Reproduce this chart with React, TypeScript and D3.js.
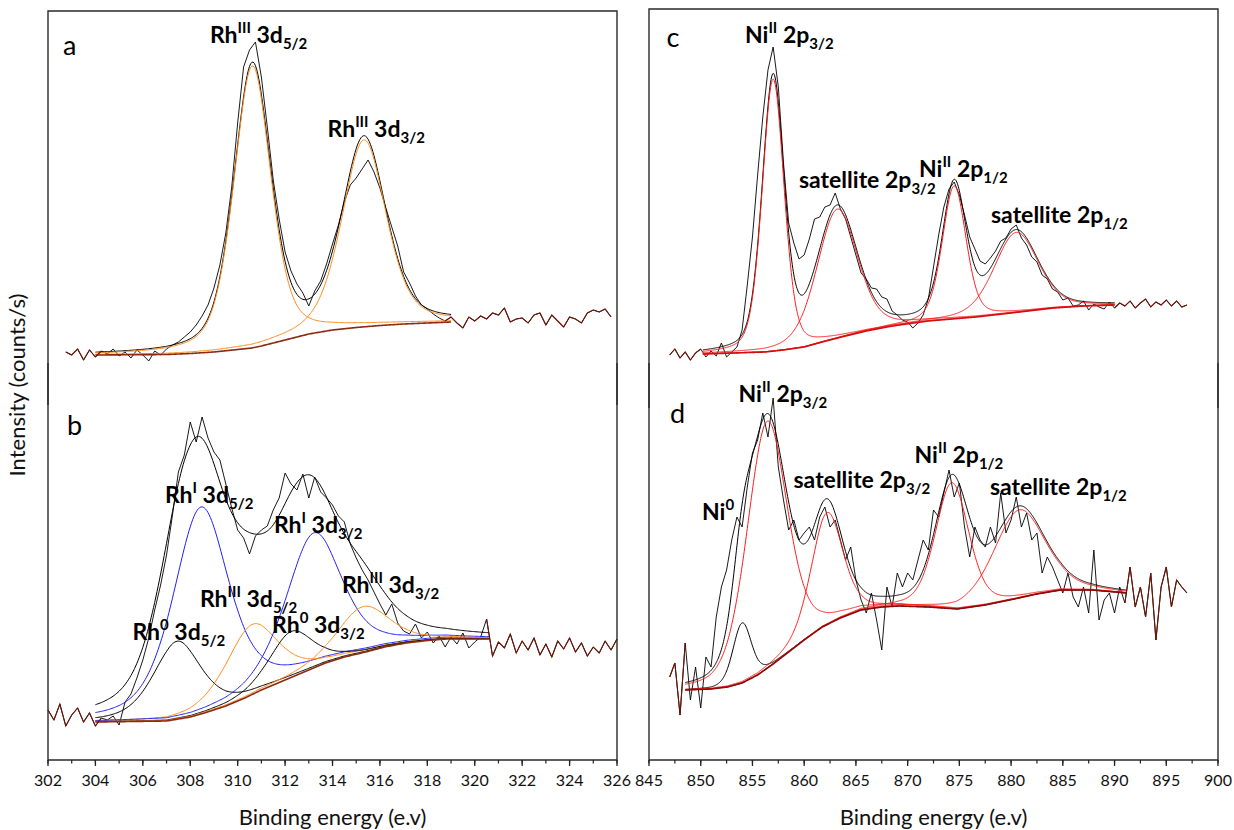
import React from "react";
import * as d3 from "d3";

const FONT = "Lato, 'Open Sans', sans-serif";

// ---------------- axis ticks ----------------
const rhTickValues = [302, 304, 306, 308, 310, 312, 314, 316, 318, 320, 322, 324, 326];
const niTickValues = [845, 850, 855, 860, 865, 870, 875, 880, 885, 890, 895, 900];
const xTitle = "Binding energy (e.v)";
const yTitle = "Intensity (counts/s)";

// ---------------- panel a : Rh 3d (fresh) ----------------
const aRawStart = 302.75;
const aRawStep = 0.25;
const aRaw = [33, 30, 36, 25, 35, 28, 34, 31, 36, 29, 33, 27, 35, 30, 24, 34, 30, 36, 40, 43, 48, 53, 60, 69, 80, 97, 120, 152, 198, 262, 318, 335, 343, 308, 258, 205, 166, 133, 114, 101, 92, 79, 94, 104, 121, 141, 160, 183, 200, 207, 216, 225, 213, 197, 177, 158, 139, 113, 102, 89, 80, 76, 71, 67, 64, 68, 62, 57, 68, 64, 69, 66, 72, 70, 77, 63, 66, 67, 62, 70, 72, 60, 70, 64, 58, 68, 66, 62, 72, 75, 73, 76, 68];
const aBgE = [304, 307, 308, 309, 310, 310.6, 311, 312, 313, 314, 315, 315.5, 316, 317, 318, 319];
const aBgI = [30, 30.5, 31.5, 33, 35.5, 37, 39, 45, 51, 55, 57.5, 58.5, 59.5, 61, 62, 63];
const aPeakSpecies = ["RhIII", "RhIII"];
const aPeakCenter = [310.62, 315.33];
const aPeakHeight = [282, 187];
const aPeakFwhm = [1.85, 2.2];
const aPeakMix = [0.4, 0.4];
const aLabels = [
  { base: "Rh", sup: "III", main: " 3d", sub: "5/2" },
  { base: "Rh", sup: "III", main: " 3d", sub: "3/2" },
];
const aLabelE = [308.83, 313.79];
const aLabelI = [342, 248];

// ---------------- panel b : Rh 3d (used) ----------------
const bRawStart = 302.0;
const bRawStep = 0.25;
const bRaw = [50, 40, 56, 34, 45, 52, 38, 47, 34, 42, 40, 44, 35, 58, 66, 82, 100, 122, 150, 175, 205, 245, 288, 305, 338, 318, 343, 322, 308, 300, 276, 252, 230, 222, 206, 224, 230, 234, 250, 262, 287, 276, 270, 286, 262, 283, 268, 262, 255, 244, 238, 216, 202, 190, 180, 168, 156, 145, 156, 137, 129, 126, 136, 122, 128, 117, 124, 113, 123, 116, 127, 112, 118, 123, 141, 104, 118, 112, 126, 107, 119, 110, 122, 105, 116, 103, 119, 111, 122, 108, 117, 104, 113, 107, 119, 110, 121];
const bBgE = [304, 307, 308, 308.6, 309.5, 310.3, 311, 312, 313, 313.7, 314.5, 315.4, 316.2, 317.1, 318, 318.8, 320.6];
const bBgI = [38, 39, 43, 47, 54, 62, 70, 80, 90, 97, 103, 108, 113, 117, 119.5, 121, 121];
const bPeakSpecies = ["Rh0", "RhI", "RhIII", "Rh0", "RhI", "RhIII"];
const bPeakCenter = [307.45, 308.45, 310.6, 312.25, 313.2, 315.3];
const bPeakHeight = [78, 207, 70, 46, 135, 46];
const bPeakFwhm = [2.4, 2.8, 2.6, 2.2, 2.8, 2.6];
const bPeakMix = [0.5, 0.5, 0.5, 0.5, 0.5, 0.5];
const bLabels = [
  { base: "Rh", sup: "I", main: " 3d", sub: "5/2" },
  { base: "Rh", sup: "I", main: " 3d", sub: "3/2" },
  { base: "Rh", sup: "III", main: " 3d", sub: "5/2" },
  { base: "Rh", sup: "0", main: " 3d", sub: "5/2" },
  { base: "Rh", sup: "0", main: " 3d", sub: "3/2" },
  { base: "Rh", sup: "III", main: " 3d", sub: "3/2" },
];
const bLabelE = [306.93, 311.53, 308.41, 305.56, 311.45, 314.4];
const bLabelI = [257, 227, 153, 120, 127, 167];

// ---------------- panel c : Ni 2p (fresh) ----------------
const cRawStart = 847;
const cRawStep = 0.5;
const cRaw = [30, 36, 27, 33, 25, 32, 36, 28, 34, 29, 42, 28, 33, 38, 55, 100, 148, 210, 268, 315, 338, 298, 222, 162, 142, 126, 130, 146, 166, 168, 178, 180, 192, 176, 166, 148, 130, 112, 106, 97, 96, 88, 86, 74, 70, 65, 63, 57, 62, 70, 86, 118, 150, 178, 196, 203, 190, 170, 148, 136, 124, 121, 127, 134, 144, 147, 156, 160, 147, 140, 128, 123, 110, 106, 96, 93, 85, 87, 79, 80, 84, 75, 81, 78, 76, 83, 77, 82, 79, 84, 77, 82, 86, 78, 83, 80, 85, 79, 84, 78, 80];
const cBgE = [850.2, 856.2, 858, 860, 861.75, 864, 866, 868, 869.2, 872, 876.6, 880, 884.1, 887, 890];
const cBgI = [31, 33, 35, 38, 43, 49, 54, 58, 60, 64, 68, 72, 77, 79, 80];
const cPeakSpecies = ["Ni", "Ni", "Ni", "Ni"];
const cPeakCenter = [857.0, 863.2, 874.5, 880.5];
const cPeakHeight = [272, 129, 133, 80];
const cPeakFwhm = [2.5, 4.6, 2.7, 5.0];
const cPeakMix = [0.3, 0.3, 0.3, 0.3];
const cLabels = [
  { base: "Ni", sup: "II", main: " 2p", sub: "3/2" },
  { base: "satellite 2p", sup: "", main: "", sub: "3/2" },
  { base: "Ni", sup: "II", main: " 2p", sub: "1/2" },
  { base: "satellite 2p", sup: "", main: "", sub: "1/2" },
];
const cLabelE = [854.28, 859.5, 871.1, 878.06];
const cLabelI = [342, 197, 208, 162];

// ---------------- panel d : Ni 2p (used) ----------------
const dRawStart = 847;
const dRawStep = 0.5;
const dRaw = [83, 97, 45, 117, 60, 93, 52, 103, 93, 143, 173, 190, 220, 243, 233, 273, 307, 320, 347, 323, 362, 293, 260, 230, 240, 220, 227, 233, 220, 243, 253, 233, 240, 220, 200, 213, 180, 160, 147, 167, 140, 110, 173, 153, 187, 173, 187, 180, 200, 220, 210, 250, 243, 267, 290, 263, 277, 233, 203, 233, 220, 213, 233, 217, 267, 227, 240, 263, 233, 247, 220, 227, 187, 203, 193, 180, 167, 187, 163, 153, 173, 147, 210, 140, 160, 167, 147, 173, 157, 193, 153, 173, 143, 187, 120, 173, 193, 153, 180, 173, 167];
const dBgE = [848.5, 851, 852.6, 854, 855.5, 857, 858.5, 860, 861.75, 863.5, 865.5, 867.5, 869.2, 872, 874.8, 877.5, 880.3, 882.5, 884.8, 887.8, 891.2];
const dBgI = [70, 71, 73, 77, 85, 96, 108, 120, 133, 142, 150, 153, 154, 153, 151, 155, 161, 166, 170, 170, 167];
const dPeakSpecies = ["Ni0", "Ni", "Ni", "Ni", "Ni"];
const dPeakCenter = [854.0, 856.4, 862.2, 874.3, 880.8];
const dPeakHeight = [60, 247, 112, 126, 88];
const dPeakFwhm = [2.1, 4.6, 3.6, 3.8, 5.8];
const dPeakMix = [0.3, 0.3, 0.3, 0.3, 0.3];
const dLabels = [
  { base: "Ni", sup: "II", main: " 2p", sub: "3/2" },
  { base: "Ni", sup: "0", main: "", sub: "" },
  { base: "satellite 2p", sup: "", main: "", sub: "3/2" },
  { base: "Ni", sup: "II", main: " 2p", sub: "1/2" },
  { base: "satellite 2p", sup: "", main: "", sub: "1/2" },
];
const dLabelE = [853.65, 850.12, 858.97, 870.67, 877.96];
const dLabelI = [358, 240, 272, 297, 265];

const letterNames = ["a", "b", "c", "d"];
const letterE = [302.63, 302.8, 846.69, 847.03];
const letterI = [330, 325, 338, 337];

// ---------------- styles ----------------
const speciesColor: Record<string, string> = {
  RhIII: "#ff8c1a",
  RhI: "#1f1fff",
  Rh0: "#000000",
  Ni: "#ff1a1a",
  Ni0: "#000000",
};
const bgColor: Record<string, string> = { a: "#8a2b12", b: "#8a2b12", c: "#d01010", d: "#8b0a0a" };

// ---------------- helpers ----------------
const pv = (E: number, c: number, h: number, w: number, eta: number) => {
  const u2 = Math.pow((2 * (E - c)) / w, 2);
  return h * (eta / (1 + u2) + (1 - eta) * Math.pow(2, -u2));
};
const interp = (xs: number[], ys: number[], x: number) => {
  if (x <= xs[0]) return ys[0];
  if (x >= xs[xs.length - 1]) return ys[ys.length - 1];
  const i = d3.bisectRight(xs, x) - 1;
  const t = (x - xs[i]) / (xs[i + 1] - xs[i]);
  return ys[i] + t * (ys[i + 1] - ys[i]);
};

type Lab = { base: string; sup: string; main: string; sub: string };

function Label({ x, y, l }: { x: number; y: number; l: Lab }) {
  const big = 23;
  const small = 15;
  let cur = 0;
  const parts: any[] = [];
  parts.push(<tspan key="b">{l.base}</tspan>);
  if (l.sup) {
    parts.push(<tspan key="p" fontSize={small} dy={-10}>{l.sup}</tspan>);
    cur = -10;
  }
  if (l.main) {
    parts.push(<tspan key="m" fontSize={big} dy={-cur}>{l.main}</tspan>);
    cur = 0;
  }
  if (l.sub) {
    parts.push(<tspan key="s" fontSize={small} dy={6 - cur}>{l.sub}</tspan>);
  }
  return (
    <text x={x} y={y} fontFamily={FONT} fontWeight={700} fontSize={big} fill="#000" style={{ whiteSpace: "pre" }}>
      {parts}
    </text>
  );
}

// ---------------- scales ----------------
const xRh = d3.scaleLinear().domain([302, 326]).range([48, 617]);
const xNi = d3.scaleLinear().domain([845, 900]).range([649, 1218]);
const yA = d3.scaleLinear().domain([0, 374]).range([385, 11]);
const yB = d3.scaleLinear().domain([0, 375]).range([760, 385]);
const yC = d3.scaleLinear().domain([0, 376]).range([385, 9]);
const yD = d3.scaleLinear().domain([0, 375]).range([760, 385]);

const panels = [
  { key: "a", x: xRh, y: yA, rs: aRawStart, st: aRawStep, raw: aRaw, bgE: aBgE, bgI: aBgI, sp: aPeakSpecies, pc: aPeakCenter, ph: aPeakHeight, pw: aPeakFwhm, pm: aPeakMix, labs: aLabels, lE: aLabelE, lI: aLabelI },
  { key: "b", x: xRh, y: yB, rs: bRawStart, st: bRawStep, raw: bRaw, bgE: bBgE, bgI: bBgI, sp: bPeakSpecies, pc: bPeakCenter, ph: bPeakHeight, pw: bPeakFwhm, pm: bPeakMix, labs: bLabels, lE: bLabelE, lI: bLabelI },
  { key: "c", x: xNi, y: yC, rs: cRawStart, st: cRawStep, raw: cRaw, bgE: cBgE, bgI: cBgI, sp: cPeakSpecies, pc: cPeakCenter, ph: cPeakHeight, pw: cPeakFwhm, pm: cPeakMix, labs: cLabels, lE: cLabelE, lI: cLabelI },
  { key: "d", x: xNi, y: yD, rs: dRawStart, st: dRawStep, raw: dRaw, bgE: dBgE, bgI: dBgI, sp: dPeakSpecies, pc: dPeakCenter, ph: dPeakHeight, pw: dPeakFwhm, pm: dPeakMix, labs: dLabels, lE: dLabelE, lI: dLabelI },
];

function PanelPlot({ p, idx }: { p: (typeof panels)[number]; idx: number }) {
  const line = d3
    .line<[number, number]>()
    .x((d) => p.x(d[0]))
    .y((d) => p.y(d[1]));
  const rawPts: [number, number][] = p.raw.map((v, i) => [p.rs + i * p.st, v]);
  const e0 = p.bgE[0];
  const e1 = p.bgE[p.bgE.length - 1];
  const grid = d3.range(e0, e1 + 1e-9, 0.05);
  const bgAt = (E: number) => interp(p.bgE, p.bgI, E);
  const comps = p.pc.map((c, k) =>
    grid.map((E) => [E, bgAt(E) + pv(E, c, p.ph[k], p.pw[k], p.pm[k])] as [number, number])
  );
  const env = grid.map(
    (E) => [E, bgAt(E) + d3.sum(p.pc, (c, k) => pv(E, c, p.ph[k], p.pw[k], p.pm[k]))] as [number, number]
  );
  const bgLine = grid.map((E) => [E, bgAt(E)] as [number, number]);
  const leftRaw = rawPts.filter((d) => d[0] <= e0 + 0.26);
  const rightRaw = rawPts.filter((d) => d[0] >= e1 - 0.26);
  return (
    <g>
      <path d={line(rawPts) || ""} fill="none" stroke="#000" strokeWidth={0.9} />
      <path d={line(env) || ""} fill="none" stroke="#000" strokeWidth={1} />
      {comps.map((cp, k) => (
        <path key={k} d={line(cp) || ""} fill="none" stroke={speciesColor[p.sp[k]]} strokeWidth={1} />
      ))}
      <path d={line(bgLine) || ""} fill="none" stroke={bgColor[p.key]} strokeWidth={1.6} />
      <path d={line(leftRaw) || ""} fill="none" stroke="#6e1508" strokeWidth={1.1} />
      <path d={line(rightRaw) || ""} fill="none" stroke="#6e1508" strokeWidth={1.1} />
      {p.labs.map((l, k) => (
        <Label key={k} x={p.x(p.lE[k])} y={p.y(p.lI[k])} l={l} />
      ))}
      <text x={p.x(letterE[idx])} y={p.y(letterI[idx])} fontFamily={FONT} fontSize={27} fill="#000">
        {letterNames[idx]}
      </text>
    </g>
  );
}

function XAxis({ x, ticks, minorStep }: { x: d3.ScaleLinear<number, number>; ticks: number[]; minorStep: number }) {
  const [d0, d1] = x.domain();
  const minors = d3.range(d0, d1 + 1e-9, minorStep);
  const y0 = 760;
  return (
    <g>
      {minors.map((m, i) => (
        <line key={"m" + i} x1={x(m)} x2={x(m)} y1={y0} y2={y0 + 3.5} stroke="#222" strokeWidth={1.2} />
      ))}
      {ticks.map((t) => (
        <g key={t}>
          <line x1={x(t)} x2={x(t)} y1={y0} y2={y0 + 6} stroke="#222" strokeWidth={1.3} />
          <text x={x(t)} y={786} textAnchor="middle" fontFamily={FONT} fontSize={16} fill="#111">
            {t}
          </text>
        </g>
      ))}
      <text x={(x.range()[0] + x.range()[1]) / 2} y={825} textAnchor="middle" fontFamily={FONT} fontSize={22} fill="#111">
        {xTitle}
      </text>
    </g>
  );
}

function Frame({ x0, x1, top, mid1, mid2 }: { x0: number; x1: number; top: number; mid1: number; mid2: number }) {
  const s = "#2a2a2a";
  return (
    <g fill="none" stroke={s} strokeWidth={1.4}>
      <path d={`M${x0},${mid2} L${x0},${top} L${x1},${top} L${x1},${mid2}`} />
      <path d={`M${x0},${mid1} L${x0},760 L${x1},760 L${x1},${mid1}`} />
    </g>
  );
}

export default function App() {
  return (
    <svg width={1234} height={830} style={{ position: "absolute", left: 0, top: 0, background: "#fff" }}>
      <rect width={1234} height={830} fill="#fff" />
      <Frame x0={48} x1={617} top={11} mid1={363} mid2={405} />
      <Frame x0={649} x1={1218} top={9} mid1={363} mid2={408} />
      {panels.map((p, i) => (
        <PanelPlot key={p.key} p={p} idx={i} />
      ))}
      <XAxis x={xRh} ticks={rhTickValues} minorStep={1} />
      <XAxis x={xNi} ticks={niTickValues} minorStep={2.5} />
      <text
        transform="translate(25,385) rotate(-90)"
        textAnchor="middle"
        fontFamily={FONT}
        fontSize={22}
        fill="#111"
      >
        {yTitle}
      </text>
    </svg>
  );
}
